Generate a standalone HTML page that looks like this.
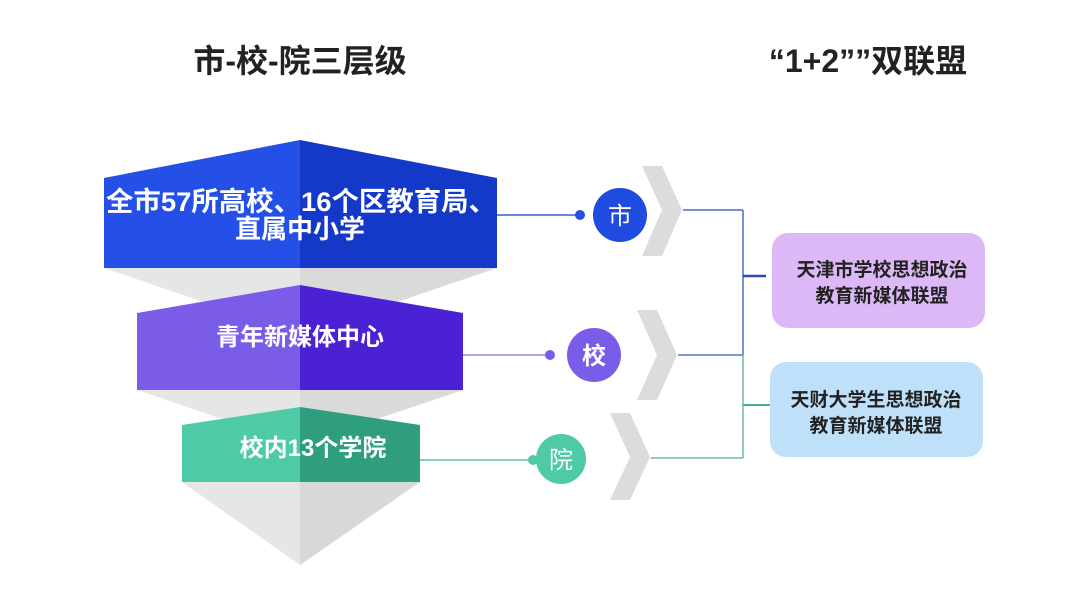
<!DOCTYPE html>
<html><head><meta charset="utf-8"><style>
body{margin:0;background:#fff;}
svg{display:block}
text{font-family:"Liberation Sans","Noto Sans CJK SC",sans-serif;}
</style></head><body>
<svg width="1080" height="606" viewBox="0 0 1080 606">
<text x="300" y="72" text-anchor="middle" font-size="32" font-weight="bold" fill="#222">市-校-院三层级</text>
<text x="868" y="72" text-anchor="middle" font-size="32" font-weight="bold" fill="#222">“1+2””双联盟</text>
<!-- gray funnels -->
<polygon points="104,268 300,268 300,335" fill="#e6e6e6"/>
<polygon points="300,268 497,268 300,335" fill="#dadada"/>
<polygon points="137,390 300,390 300,445" fill="#e6e6e6"/>
<polygon points="300,390 463,390 300,445" fill="#dadada"/>
<polygon points="182,482 300,482 300,565" fill="#e6e6e6"/>
<polygon points="300,482 420,482 300,565" fill="#d8d8d8"/>
<!-- blue -->
<polygon points="104,178 300,140 300,268 104,268" fill="#2450e8"/>
<polygon points="300,140 497,178 497,268 300,268" fill="#1438c8"/>
<text x="106" y="211" textLength="390" lengthAdjust="spacingAndGlyphs" font-size="27" font-weight="bold" fill="#fff">全市57所高校、16个区教育局、</text>
<text x="300" y="238" text-anchor="middle" font-size="26" font-weight="bold" fill="#fff">直属中小学</text>
<!-- purple -->
<polygon points="137,313 300,285 300,390 137,390" fill="#7b5ce8"/>
<polygon points="300,285 463,313 463,390 300,390" fill="#4a22d4"/>
<text x="300" y="345" text-anchor="middle" font-size="24" font-weight="bold" fill="#fff">青年新媒体中心</text>
<!-- green -->
<polygon points="182,425 300,407 300,482 182,482" fill="#4ecaa6"/>
<polygon points="300,407 420,425 420,482 300,482" fill="#2e9e7e"/>
<text x="313" y="456" text-anchor="middle" font-size="24" font-weight="bold" fill="#fff">校内13个学院</text>
<!-- connectors -->
<line x1="497" y1="215" x2="580" y2="215" stroke="#3a5fd8" stroke-width="1.5"/>
<circle cx="580" cy="215" r="5" fill="#2450e8"/>
<line x1="463" y1="355" x2="550" y2="355" stroke="#9a86e0" stroke-width="1.5"/>
<circle cx="550" cy="355" r="5" fill="#7b5ce8"/>
<line x1="420" y1="460" x2="533" y2="460" stroke="#5cc0a0" stroke-width="1.5"/>
<circle cx="533" cy="460" r="5" fill="#4ecaa6"/>
<!-- chevrons -->
<polygon points="642,166 662,166 682,210 662,256 642,256 662,210" fill="#dcdcdc"/>
<polygon points="637,310 657,310 677,355 657,400 637,400 657,355" fill="#dcdcdc"/>
<polygon points="610,413 630,413 650,457 630,500 610,500 630,457" fill="#dcdcdc"/>
<!-- circles -->
<circle cx="620" cy="215" r="27" fill="#1f4be0"/>
<text x="620" y="224" text-anchor="middle" font-size="24" fill="#fff">市</text>
<circle cx="594" cy="355" r="27" fill="#7b5ce8"/>
<text x="594" y="364" text-anchor="middle" font-size="24" font-weight="bold" fill="#fff">校</text>
<circle cx="561" cy="459" r="25" fill="#4ecaa6"/>
<text x="561" y="468" text-anchor="middle" font-size="24" fill="#fff">院</text>
<!-- bracket lines -->
<g stroke-width="1.5" fill="none">
<line x1="683" y1="210" x2="743" y2="210" stroke="#4a6cc8"/>
<line x1="743" y1="210" x2="743" y2="355" stroke="#4a6cc8"/>
<line x1="678" y1="355" x2="743" y2="355" stroke="#5a70c8"/>
<line x1="743" y1="276" x2="766" y2="276" stroke="#2a4cb8" stroke-width="2.5"/>
<line x1="743" y1="355" x2="743" y2="458" stroke="#6cb8a8"/>
<line x1="651" y1="458" x2="743" y2="458" stroke="#6cb8a8"/>
<line x1="743" y1="405" x2="770" y2="405" stroke="#4ca898" stroke-width="2"/>
</g>
<!-- boxes -->
<rect x="772" y="233" width="213" height="95" rx="16" fill="#dcb9f6"/>
<text x="882" y="276" text-anchor="middle" font-size="19" font-weight="bold" fill="#222">天津市学校思想政治</text>
<text x="882" y="302" text-anchor="middle" font-size="19" font-weight="bold" fill="#222">教育新媒体联盟</text>
<rect x="770" y="362" width="213" height="95" rx="16" fill="#bfe0f9"/>
<text x="876" y="406" text-anchor="middle" font-size="19" font-weight="bold" fill="#222">天财大学生思想政治</text>
<text x="876" y="432" text-anchor="middle" font-size="19" font-weight="bold" fill="#222">教育新媒体联盟</text>
</svg>
</body></html>
